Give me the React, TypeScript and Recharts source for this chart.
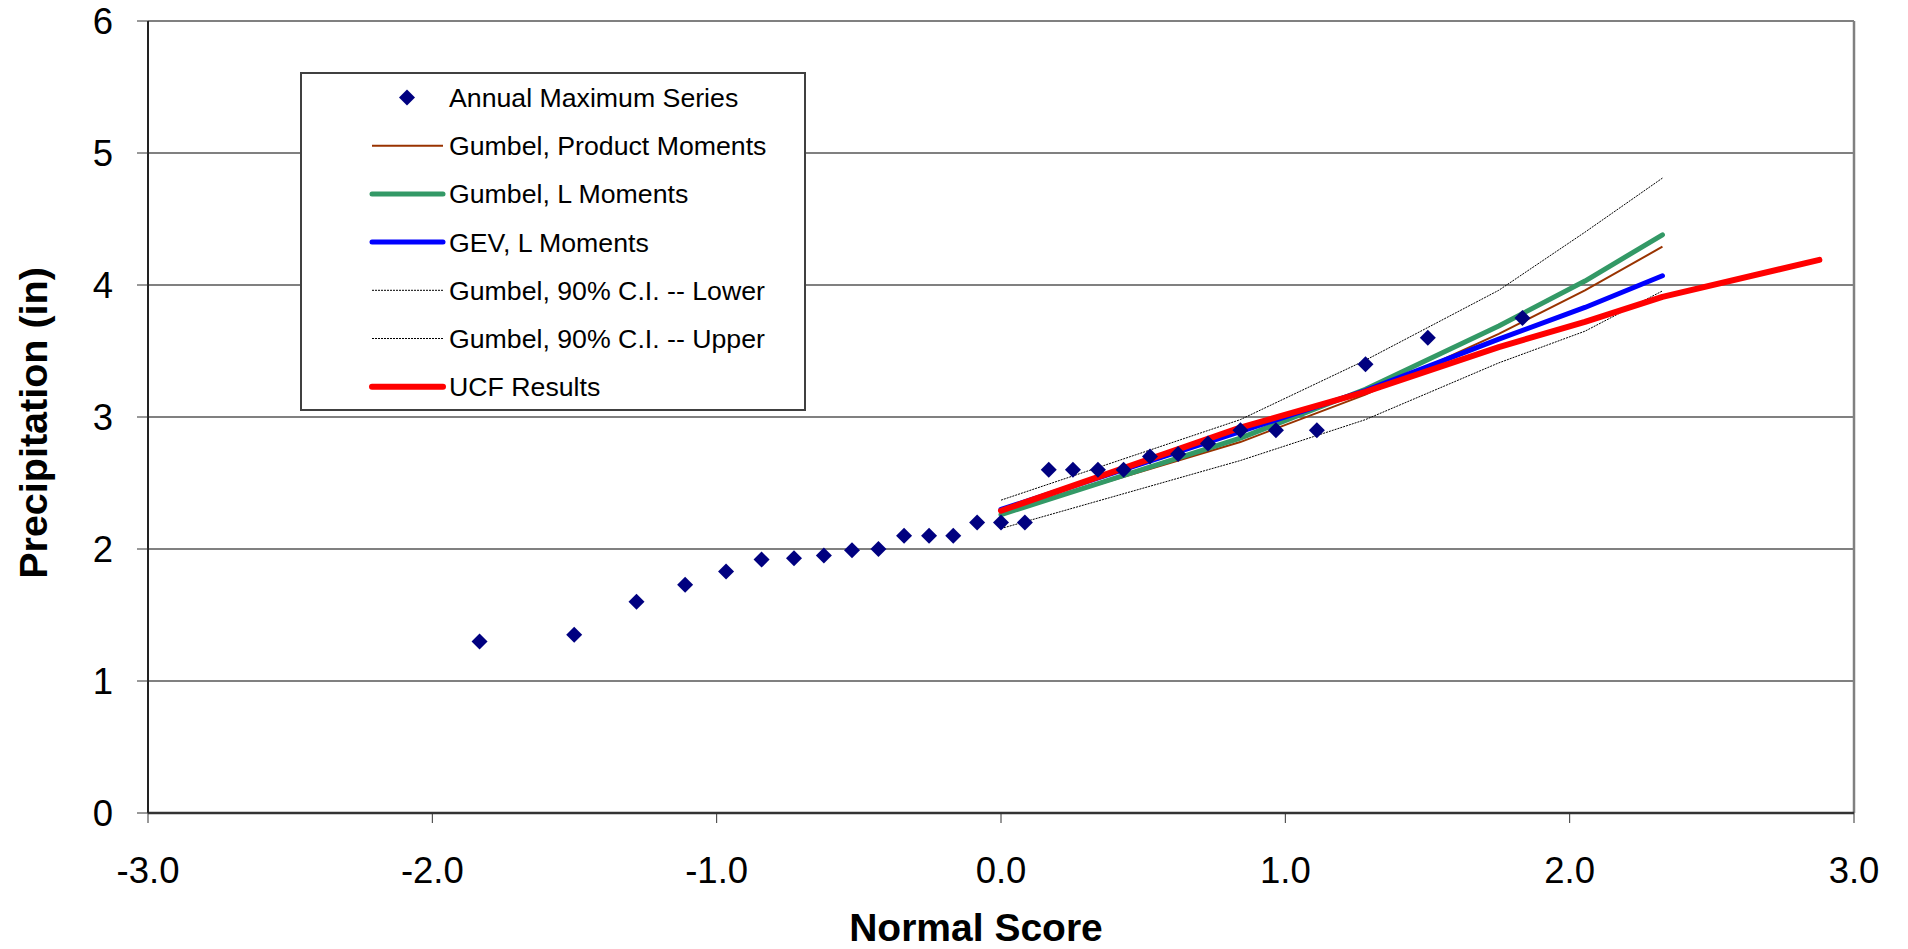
import React from 'react';
import {
  ComposedChart,
  Line,
  Scatter,
  XAxis,
  YAxis,
  CartesianGrid,
  Legend,
  ReferenceLine,
} from 'recharts';

// ---------- data ----------
const amsScores = [
  -1.834, -1.501, -1.282, -1.111, -0.967, -0.842, -0.728, -0.623, -0.524, -0.431,
  -0.341, -0.253, -0.168, -0.084, 0, 0.084, 0.168, 0.253, 0.341, 0.431, 0.524,
  0.623, 0.728, 0.842, 0.967, 1.111, 1.282, 1.501, 1.834,
];
const amsValues = [
  1.3, 1.35, 1.6, 1.73, 1.83, 1.92, 1.93, 1.95, 1.99, 2.0, 2.1, 2.1, 2.1, 2.2, 2.2,
  2.2, 2.6, 2.6, 2.6, 2.6, 2.7, 2.72, 2.8, 2.9, 2.9, 2.9, 3.4, 3.6, 3.75,
];

const fitScores = [0, 0.8416, 1.2816, 1.7507, 2.0537, 2.3263];
const gumbelPM = [2.27, 2.81, 3.17, 3.63, 3.96, 4.29];
const gumbelLM = [2.26, 2.84, 3.21, 3.69, 4.03, 4.38];
const gevLM = [2.3, 2.89, 3.2, 3.59, 3.83, 4.07];
const ciLower = [2.155, 2.67, 2.98, 3.41, 3.65, 3.955];
const ciUpper = [2.37, 2.98, 3.43, 3.96, 4.4, 4.81];

const ucfScores = [0, 0.8416, 1.2816, 1.7507, 2.0537, 2.3263, 2.8782];
const ucfValues = [2.29, 2.92, 3.19, 3.53, 3.72, 3.91, 4.19];

const xTicks = [-3, -2, -1, 0, 1, 2, 3];
const yTicks = [0, 1, 2, 3, 4, 5, 6];

const seriesNames = [
  'Annual Maximum Series',
  'Gumbel, Product Moments',
  'Gumbel, L Moments',
  'GEV, L Moments',
  'Gumbel, 90% C.I. -- Lower',
  'Gumbel, 90% C.I. -- Upper',
  'UCF Results',
];
const xTitle = 'Normal Score';
const yTitle = 'Precipitation (in)';

// ---------- helpers ----------
const zip = (xs: number[], ys: number[]) => xs.map((x, i) => ({ x, y: ys[i] }));

const amsData = zip(amsScores, amsValues);
const pmData = zip(fitScores, gumbelPM);
const lmData = zip(fitScores, gumbelLM);
const gevData = zip(fitScores, gevLM);
const loData = zip(fitScores, ciLower);
const upData = zip(fitScores, ciUpper);
const ucfData = zip(ucfScores, ucfValues);

const FONT = "'Liberation Sans', Arial, Helvetica, sans-serif";

const styles = [
  { kind: 'diamond', color: '#000080', width: 0, dash: undefined as string | undefined },
  { kind: 'line', color: '#993300', width: 2, dash: undefined },
  { kind: 'line', color: '#339966', width: 5, dash: undefined },
  { kind: 'line', color: '#0000FF', width: 5, dash: undefined },
  { kind: 'line', color: '#000000', width: 1, dash: '2 1' },
  { kind: 'line', color: '#000000', width: 1, dash: '2 1' },
  { kind: 'line', color: '#FF0000', width: 6, dash: undefined },
];

const Diamond = (props: any) => {
  const { cx, cy } = props;
  if (cx == null || cy == null) return null;
  const w = 8;
  const h = 8;
  return (
    <polygon
      points={`${cx},${cy - h} ${cx + w},${cy} ${cx},${cy + h} ${cx - w},${cy}`}
      fill="#000080"
      stroke="none"
    />
  );
};

const XTick = (props: any) => {
  const { x, payload } = props;
  return (
    <text x={x} y={883} textAnchor="middle" fontSize={36.5} fontFamily={FONT} fill="#000">
      {Number(payload.value).toFixed(1)}
    </text>
  );
};

const YTick = (props: any) => {
  const { y, payload } = props;
  return (
    <text x={113} y={y + 13} textAnchor="end" fontSize={36.5} fontFamily={FONT} fill="#000">
      {payload.value}
    </text>
  );
};

const LegendBox = () => {
  const rowH = 48.2;
  const firstCenter = 25.5;
  return (
    <div
      style={{
        position: 'relative',
        width: 506,
        height: 339,
        boxSizing: 'border-box',
        border: '2px solid #404040',
        background: '#fff',
        fontFamily: FONT,
      }}
    >
      <svg
        width={506}
        height={339}
        style={{ position: 'absolute', left: -2, top: -2, overflow: 'visible' }}
      >
        {seriesNames.map((name, i) => {
          const cy = firstCenter + rowH * i;
          const st = styles[i];
          return (
            <g key={name}>
              {st.kind === 'diamond' ? (
                <Diamond cx={107} cy={cy} />
              ) : (
                <line
                  x1={72}
                  x2={143}
                  y1={cy}
                  y2={cy}
                  stroke={st.color}
                  strokeWidth={st.width}
                  strokeDasharray={st.dash}
                  strokeLinecap={st.width > 2 ? 'round' : 'butt'}
                />
              )}
              <text x={149} y={cy + 9.5} fontSize={26.7} fontFamily={FONT} fill="#000">
                {name}
              </text>
            </g>
          );
        })}
      </svg>
    </div>
  );
};

export default function App() {
  return (
    <div style={{ position: 'absolute', left: 0, top: 0, width: 1908, height: 949, background: '#fff' }}>
      <ComposedChart
        width={1908}
        height={949}
        margin={{ top: 21, right: 54, bottom: 0, left: 0 }}
        style={{ fontFamily: FONT }}
      >
        <CartesianGrid horizontal vertical={false} stroke="#808080" strokeWidth={2} />
        <XAxis
          dataKey="x"
          type="number"
          domain={[-3, 3]}
          ticks={xTicks}
          height={136}
          tickSize={10}
          tick={<XTick />}
          axisLine={{ stroke: '#333', strokeWidth: 2.5 }}
          tickLine={{ stroke: '#333', strokeWidth: 1 }}
          allowDataOverflow
          label={{
            value: xTitle,
            content: () => (
              <text x={976} y={941} textAnchor="middle" fontSize={39} fontWeight="bold" fontFamily={FONT} fill="#000">
                {xTitle}
              </text>
            ),
          }}
        />
        <YAxis
          dataKey="y"
          type="number"
          domain={[0, 6]}
          ticks={yTicks}
          width={148}
          tickSize={11}
          tick={<YTick />}
          axisLine={{ stroke: '#222', strokeWidth: 2 }}
          tickLine={{ stroke: '#333', strokeWidth: 1 }}
          allowDataOverflow
          label={{
            value: yTitle,
            content: () => (
              <text
                x={47}
                y={423}
                transform="rotate(-90 47 423)"
                textAnchor="middle"
                fontSize={39.5}
                fontWeight="bold"
                fontFamily={FONT}
                fill="#000"
              >
                {yTitle}
              </text>
            ),
          }}
        />
        <ReferenceLine x={3} stroke="#808080" strokeWidth={2.5} ifOverflow="visible" />
        <Legend
          layout="vertical"
          align="center"
          verticalAlign="middle"
          wrapperStyle={{ left: 300, top: 72, width: 506, height: 339 }}
          content={() => <LegendBox />}
        />
        <Line data={loData} dataKey="y" name={seriesNames[4]} type="linear" stroke="#000" strokeWidth={1} strokeDasharray="2 1" dot={false} activeDot={false} isAnimationActive={false} />
        <Line data={upData} dataKey="y" name={seriesNames[5]} type="linear" stroke="#000" strokeWidth={1} strokeDasharray="2 1" dot={false} activeDot={false} isAnimationActive={false} />
        <Line data={pmData} dataKey="y" name={seriesNames[1]} type="linear" stroke="#993300" strokeWidth={2} dot={false} activeDot={false} isAnimationActive={false} />
        <Line data={lmData} dataKey="y" name={seriesNames[2]} type="linear" stroke="#339966" strokeWidth={5} strokeLinecap="round" strokeLinejoin="round" dot={false} activeDot={false} isAnimationActive={false} />
        <Line data={gevData} dataKey="y" name={seriesNames[3]} type="linear" stroke="#0000FF" strokeWidth={5} strokeLinecap="round" strokeLinejoin="round" dot={false} activeDot={false} isAnimationActive={false} />
        <Line data={ucfData} dataKey="y" name={seriesNames[6]} type="linear" stroke="#FF0000" strokeWidth={6} strokeLinecap="round" strokeLinejoin="round" dot={false} activeDot={false} isAnimationActive={false} />
        <Scatter data={amsData} dataKey="y" name={seriesNames[0]} shape={<Diamond />} isAnimationActive={false} />
      </ComposedChart>
    </div>
  );
}
